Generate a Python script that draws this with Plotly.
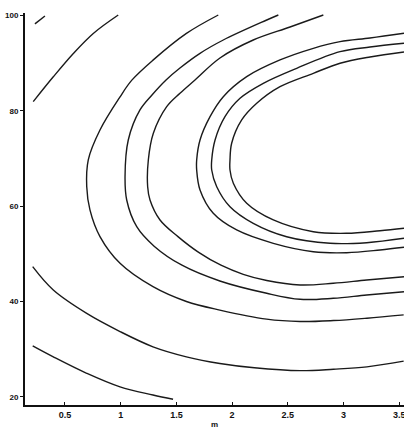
import plotly.graph_objects as go

# Contour lines (x = m, y = response)
c1_x = [0.23, 0.32]
c1_y = [98.2, 99.85]

c2_x = [0.215, 0.395, 0.575, 0.754, 0.978]
c2_y = [81.9, 87.1, 92.0, 96.2, 100.06]

c3_x = [0.21, 0.395, 0.695, 0.994, 1.29, 1.47]
c3_y = [30.7, 28.4, 24.95, 22.1, 20.4, 19.5]

c4_x = [0.21, 0.395, 0.695, 0.994, 1.29, 1.59, 1.89, 2.2, 2.61, 2.91, 3.21, 3.54]
c4_y = [47.3, 42.4, 37.5, 33.7, 30.5, 28.4, 27.0, 26.1, 25.5, 25.8, 26.3, 27.5]

c5_x = [1.876, 1.59, 1.29, 1.10, 0.994, 0.814, 0.709, 0.695, 0.724, 0.814, 0.994,
        1.29, 1.59, 1.89, 2.31, 2.61, 2.91, 3.21, 3.54]
c5_y = [100.06, 96.2, 90.6, 86.4, 82.9, 75.95, 69.7, 64.1, 59.2, 53.6, 48.0,
        43.1, 40.0, 38.2, 36.3, 35.8, 36.0, 36.5, 37.2]

c6_x = [2.415, 2.311, 1.921, 1.712, 1.532, 1.407, 1.281, 1.173, 1.068, 1.039, 1.054,
        1.144, 1.30, 1.55, 1.89, 2.311, 2.610, 2.908, 3.208, 3.543]
c6_y = [100.06, 99.01, 94.82, 92.03, 88.95, 86.44, 83.29, 80.15, 73.86, 66.16, 61.28,
        55.68, 51.6, 47.6, 44.3, 41.72, 40.46, 40.67, 41.36, 42.05]

c7_x = [2.819, 2.520, 2.190, 1.891, 1.667, 1.532, 1.413, 1.293, 1.248, 1.242, 1.263,
        1.353, 1.514, 1.70, 1.90, 2.10, 2.311, 2.610, 2.908, 3.208, 3.543]
c7_y = [100.06, 97.55, 94.82, 91.05, 86.44, 83.65, 80.84, 75.26, 69.67, 64.07, 61.28,
        57.09, 53.6, 50.3, 47.6, 45.7, 44.4, 43.46, 43.82, 44.51, 45.20]

e1_x = [3.543, 3.238, 2.969, 2.729, 2.430, 2.131, 1.921, 1.802, 1.712, 1.682, 1.682,
        1.712, 1.831, 2.041, 2.370, 2.729, 3.029, 3.328, 3.543]
e1_y = [96.23, 95.24, 94.47, 93.08, 90.63, 87.13, 82.93, 78.74, 73.86, 69.67, 67.57,
        63.38, 58.49, 54.99, 52.20, 50.44, 50.23, 50.80, 51.36]

e2_x = [3.543, 3.238, 2.969, 2.580, 2.280, 2.071, 1.936, 1.847, 1.817, 1.817, 1.862,
        1.981, 2.190, 2.490, 2.879, 3.208, 3.543]
e2_y = [94.13, 93.35, 92.37, 88.89, 85.74, 82.60, 78.74, 73.86, 69.67, 67.57, 64.07,
        59.87, 56.39, 53.58, 52.20, 52.33, 53.25]

e3_x = [3.543, 3.238, 2.969, 2.729, 2.430, 2.221, 2.086, 1.996, 1.981, 1.981, 2.011,
        2.131, 2.370, 2.729, 3.029, 3.328, 3.543]
e3_y = [92.31, 91.26, 89.94, 87.84, 85.03, 81.55, 78.05, 73.17, 69.67, 67.57, 64.78,
        60.59, 57.09, 54.63, 54.30, 54.84, 55.35]

x_ticks = [0.5, 1, 1.5, 2, 2.5, 3, 3.5]
x_tick_labels = ["0.5", "1", "1.5", "2", "2.5", "3", "3.5"]
y_ticks = [20, 40, 60, 80, 100]
y_tick_labels = ["20", "40", "60", "80", "100"]
x_title = "m"

curves = [(c1_x, c1_y), (c2_x, c2_y), (c3_x, c3_y), (c4_x, c4_y), (c5_x, c5_y),
          (c6_x, c6_y), (c7_x, c7_y), (e1_x, e1_y), (e2_x, e2_y), (e3_x, e3_y)]

fig = go.Figure()
for cx, cy in curves:
    fig.add_trace(go.Scatter(
        x=cx, y=cy, mode="lines",
        line=dict(color="#1a1a1a", width=1.4, shape="spline", smoothing=1.0),
        hoverinfo="skip", showlegend=False, cliponaxis=False,
    ))

font_family = "Liberation Sans, Arial, sans-serif"
tick_font = dict(family=font_family, size=9, color="#111", weight="bold")

fig.update_layout(
    width=404, height=431,
    margin=dict(l=25, r=0, t=13, b=26, autoexpand=False),
    paper_bgcolor="white", plot_bgcolor="white",
    showlegend=False,
    xaxis=dict(
        range=[0.141, 3.543], tickvals=x_ticks, ticktext=x_tick_labels,
        showgrid=False, zeroline=False, automargin=False,
        showline=True, linecolor="#111", linewidth=2, mirror=False,
        ticks="inside", ticklen=3, tickwidth=1, tickcolor="#111",
        tickfont=tick_font, ticklabelstandoff=0, ticklabeloverflow="allow",
    ),
    yaxis=dict(
        range=[18.3, 100.48], tickvals=y_ticks, ticktext=y_tick_labels,
        showgrid=False, zeroline=False, automargin=False,
        showline=True, linecolor="#111", linewidth=2, mirror=False,
        ticks="outside", ticklen=3, tickwidth=1, tickcolor="#111",
        tickfont=dict(family=font_family, size=8, color="#111", weight="bold"),
        ticklabelstandoff=0, ticklabeloverflow="allow",
    ),
    annotations=[dict(
        text=x_title, x=0.5, xref="paper", y=-0.05, yref="paper",
        xanchor="center", yanchor="middle", showarrow=False,
        font=dict(family=font_family, size=8, color="#111", weight="bold"),
    )],
)

fig.write_html(
    "out.html",
    config={"displayModeBar": False},
    post_script="document.body.style.margin='0';document.body.style.overflow='hidden';",
)
